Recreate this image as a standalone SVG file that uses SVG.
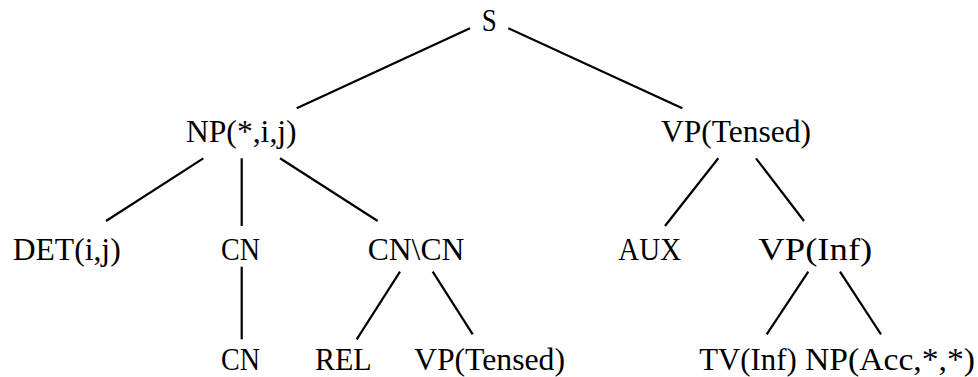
<svg xmlns="http://www.w3.org/2000/svg" width="978" height="377" viewBox="0 0 978 377">
<style>
text{font-family:'Liberation Serif','Times New Roman','DejaVu Serif',serif;font-size:30.5px;fill:#000;text-anchor:middle}
.e line{stroke:#000;stroke-width:2.2;stroke-linecap:butt}
</style>
<rect width="978" height="377" fill="#fff"/>
<g id="connectors" class="e">
<line x1="470" y1="28.3" x2="296.7" y2="108.3"/>
<line x1="508.3" y1="28.3" x2="682.3" y2="108.3"/>
<line x1="203.3" y1="158.3" x2="106" y2="221"/>
<line x1="241.7" y1="158.3" x2="241.7" y2="226"/>
<line x1="280" y1="158.3" x2="377.7" y2="221"/>
<line x1="241.7" y1="266.7" x2="241.7" y2="339.3"/>
<line x1="400" y1="271.7" x2="356.7" y2="339.3"/>
<line x1="432.7" y1="271.7" x2="472.7" y2="334.3"/>
<line x1="718.3" y1="158.3" x2="665" y2="226"/>
<line x1="756" y1="158.3" x2="804" y2="221"/>
<line x1="808.3" y1="271.7" x2="766.7" y2="334.3"/>
<line x1="840" y1="271.7" x2="881" y2="334.3"/>
</g>
<g id="n-s"><text x="489.2" y="31" textLength="15" lengthAdjust="spacingAndGlyphs">S</text></g>
<g id="n-np"><text x="241.3" y="141.7" textLength="110.7" lengthAdjust="spacingAndGlyphs">NP(*,i,j)</text></g>
<g id="n-vp"><text x="736" y="141.7" textLength="150" lengthAdjust="spacingAndGlyphs">VP(Tensed)</text></g>
<g id="n-det"><text x="66.7" y="260" textLength="108" lengthAdjust="spacingAndGlyphs">DET(i,j)</text></g>
<g id="n-cn"><text x="240.5" y="260" textLength="39" lengthAdjust="spacingAndGlyphs">CN</text></g>
<g id="n-cncn"><text x="416" y="260" textLength="96.7" lengthAdjust="spacingAndGlyphs">CN\CN</text></g>
<g id="n-aux"><text x="649.7" y="260" textLength="62.7" lengthAdjust="spacingAndGlyphs">AUX</text></g>
<g id="n-vpinf"><text x="815.3" y="260" textLength="114" lengthAdjust="spacingAndGlyphs">VP(Inf)</text></g>
<g id="n-cn2"><text x="240.5" y="370" textLength="39" lengthAdjust="spacingAndGlyphs">CN</text></g>
<g id="n-rel"><text x="343.3" y="370" textLength="56.7" lengthAdjust="spacingAndGlyphs">REL</text></g>
<g id="n-vp2"><text x="489.5" y="370" textLength="151" lengthAdjust="spacingAndGlyphs">VP(Tensed)</text></g>
<g id="n-tv"><text x="748" y="370" textLength="97.4" lengthAdjust="spacingAndGlyphs">TV(Inf)</text></g>
<g id="n-npacc"><text x="890" y="370" textLength="170" lengthAdjust="spacingAndGlyphs">NP(Acc,*,*)</text></g>
</svg>
